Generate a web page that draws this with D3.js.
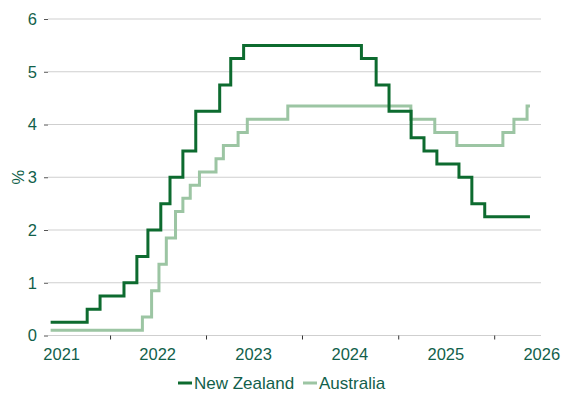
<!DOCTYPE html>
<html>
<head>
<meta charset="utf-8">
<script src="https://cdn.jsdelivr.net/npm/d3@7"></script>
<style>
    body { margin: 0; background: #fff; }
    text { font-family: "Liberation Sans", Arial, sans-serif; fill: #125f4b; }
</style>
</head>
<body>
<div id="wrapper"></div>
<script>
// policy rate steps: date the rate took effect, then the rate
const nzDates = ["2021-05-20", "2021-10-06", "2021-11-24", "2022-02-23", "2022-04-13", "2022-05-25",
    "2022-07-13", "2022-08-17", "2022-10-05", "2022-11-23", "2023-02-22", "2023-04-05", "2023-05-24",
    "2024-08-14", "2024-10-09", "2024-11-27", "2025-02-19", "2025-04-09", "2025-05-28", "2025-08-20",
    "2025-10-08", "2025-11-26", "2026-05-17"];
const nzValues = [0.25, 0.5, 0.75, 1.0, 1.5, 2.0,
    2.5, 3.0, 3.5, 4.25, 4.75, 5.25, 5.5,
    5.25, 4.75, 4.25, 3.75, 3.5, 3.25, 3.0,
    2.5, 2.25, 2.25];

const auDates = ["2021-05-20", "2022-05-04", "2022-06-08", "2022-07-06", "2022-08-03", "2022-09-07",
    "2022-10-05", "2022-11-02", "2022-12-07", "2023-02-08", "2023-03-08", "2023-05-03", "2023-06-07",
    "2023-11-08", "2025-02-18", "2025-05-20", "2025-08-12", "2026-02-03", "2026-03-17", "2026-05-06",
    "2026-05-17"];
const auValues = [0.1, 0.35, 0.85, 1.35, 1.85, 2.35,
    2.6, 2.85, 3.1, 3.35, 3.6, 3.85, 4.1,
    4.35, 4.1, 3.85, 3.6, 3.85, 4.1, 4.35,
    4.35];

const yTicks = [0, 1, 2, 3, 4, 5, 6];
const xTickDates = ["2022-01-01", "2023-01-01", "2024-01-01", "2025-01-01", "2026-01-01"];
const yearLabels = ["2021", "2022", "2023", "2024", "2025", "2026"];

const seriesNames = ["New Zealand", "Australia"];
const colors = ["#0d6b2f", "#9cc5a3"];

const parse = d3.utcParse("%Y-%m-%d");
const series = [
    nzDates.map((d, i) => ({ date: parse(d), value: nzValues[i] })),
    auDates.map((d, i) => ({ date: parse(d), value: auValues[i] }))
];

const dimensions = {
    width: 576,
    height: 395,
    margin: { top: 19, right: 35, bottom: 59.5, left: 48 }
};
dimensions.boundedWidth = dimensions.width - dimensions.margin.left - dimensions.margin.right;
dimensions.boundedHeight = dimensions.height - dimensions.margin.top - dimensions.margin.bottom;

const svg = d3.select("#wrapper").append("svg")
    .attr("width", dimensions.width)
    .attr("height", dimensions.height);

const bounds = svg.append("g")
    .attr("transform", `translate(${dimensions.margin.left},${dimensions.margin.top})`);

const xScale = d3.scaleUtc()
    .domain([parse("2021-05-10"), parse("2026-06-28")])
    .range([0, dimensions.boundedWidth]);

const yScale = d3.scaleLinear()
    .domain([0, 6])
    .range([dimensions.boundedHeight, 0]);

// gridlines
bounds.append("g")
    .selectAll("line")
    .data(yTicks)
    .join("line")
    .attr("x1", 0)
    .attr("x2", dimensions.boundedWidth)
    .attr("y1", d => yScale(d))
    .attr("y2", d => yScale(d))
    .attr("stroke", "#cfcfcf")
    .attr("stroke-width", 1.2);

// y axis
const yAxis = bounds.append("g")
    .call(d3.axisLeft(yScale).tickValues(yTicks).tickSize(4).tickPadding(7).tickFormat(d3.format("d")));
yAxis.select(".domain").remove();
yAxis.selectAll(".tick line").attr("stroke", "#555");
yAxis.selectAll("text")
    .style("font-size", "16.5px")
    .attr("fill", "#125f4b");

// x axis: ticks at year starts, labels mid-year
const xAxis = bounds.append("g")
    .attr("transform", `translate(0,${dimensions.boundedHeight})`)
    .call(d3.axisBottom(xScale).tickValues(xTickDates.map(parse)).tickSize(4).tickFormat(""));
xAxis.select(".domain").remove();
xAxis.selectAll(".tick line").attr("stroke", "#333");

bounds.append("g")
    .selectAll("text")
    .data(yearLabels)
    .join("text")
    .attr("x", d => xScale(parse(d + "-07-01")))
    .attr("y", dimensions.boundedHeight + 24)
    .attr("text-anchor", "middle")
    .style("font-size", "16.5px")
    .text(d => d);

bounds.append("text")
    .attr("transform", `translate(${18 - dimensions.margin.left},${yScale(3)}) rotate(-90)`)
    .attr("text-anchor", "middle")
    .attr("dy", "0.35em")
    .style("font-size", "16.5px")
    .text("%");

// lines
const lineGenerator = d3.line()
    .x(d => xScale(d.date))
    .y(d => yScale(d.value))
    .curve(d3.curveStepAfter);

bounds.append("g")
    .selectAll("path")
    .data(series.slice().reverse())
    .join("path")
    .attr("d", lineGenerator)
    .attr("fill", "none")
    .attr("stroke", (d, i) => colors[1 - i])
    .attr("stroke-width", 3);

// legend
const legendItems = [
    { name: seriesNames[0], color: colors[0], x: 178 },
    { name: seriesNames[1], color: colors[1], x: 303 }
];
const legend = svg.append("g");
const item = legend.selectAll("g")
    .data(legendItems)
    .join("g")
    .attr("transform", d => `translate(${d.x},383)`);
item.append("line")
    .attr("x1", 0)
    .attr("x2", 14)
    .attr("stroke", d => d.color)
    .attr("stroke-width", 3);
item.append("text")
    .attr("x", 16)
    .attr("dy", "0.36em")
    .style("font-size", "17px")
    .text(d => d.name);
</script>
</body>
</html>
